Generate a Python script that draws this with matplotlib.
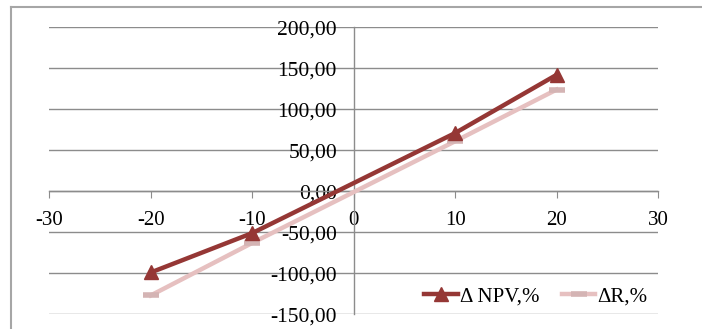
import matplotlib.pyplot as plt
from matplotlib.lines import Line2D

# Sensitivity: change of factor (%) vs change of result (%)
delta = [-20, -10, 10, 20]
npv_change = [-99, -51, 71, 142]
r_change = [-127, -63, 61, 124]

x_ticks = [-30, -20, -10, 0, 10, 20, 30]
y_ticks = [-150, -100, -50, 0, 50, 100, 150, 200]

plt.rcParams['font.family'] = ['Liberation Serif', 'DejaVu Serif']

fig = plt.figure(figsize=(7.02, 3.29), dpi=100)
ax = fig.add_axes([0.0702, 0.0447, 0.8671, 0.8723])

# frame around the chart area (left and top edges)
fx, fy = 10.7 / 702, 1 - 7.3 / 329
fig.add_artist(Line2D([fx, fx], [-0.05, fy], transform=fig.transFigure,
                      color='#a6a6a6', linewidth=1.5))
fig.add_artist(Line2D([fx, 1.05], [fy, fy], transform=fig.transFigure,
                      color='#a6a6a6', linewidth=1.5))

ax.set_xlim(-30, 30)
ax.set_ylim(-150, 200)
ax.set_xticks(x_ticks)
ax.set_yticks(y_ticks)
ax.set_xticklabels([str(v) for v in x_ticks])
ax.set_yticklabels([f'{v:.2f}'.replace('.', ',') for v in y_ticks])

ax.grid(axis='y', color='#8c8c8c', linewidth=1.0)
ax.set_axisbelow(True)

for s in ('top', 'right'):
    ax.spines[s].set_visible(False)
ax.spines['left'].set_position(('data', 0))
ax.spines['bottom'].set_position(('data', 0))
for s in ('left', 'bottom'):
    ax.spines[s].set_color('#8c8c8c')
    ax.spines[s].set_linewidth(1.0)

ax.tick_params(axis='x', direction='out', length=5, color='#8c8c8c',
               labelsize=15, pad=9)
ax.tick_params(axis='y', length=0, labelsize=15.5, pad=12)

ax.plot(delta, npv_change, color='#953735', linewidth=3.2, marker='^',
        markersize=10, label='Δ NPV,%', zorder=4)
ax.plot(delta, r_change, color='#e6c0c0', linewidth=3.2, marker='_',
        markersize=11, markeredgewidth=4, markeredgecolor='#d4b4b4',
        label='ΔR,%', zorder=3)

ax.legend(loc='lower right', bbox_to_anchor=(1.0, -0.01), ncol=2, frameon=False,
          fontsize=15, handlelength=1.6, handletextpad=0.1,
          columnspacing=1.1, borderaxespad=0.1)

fig.savefig('out.png', dpi=100)
